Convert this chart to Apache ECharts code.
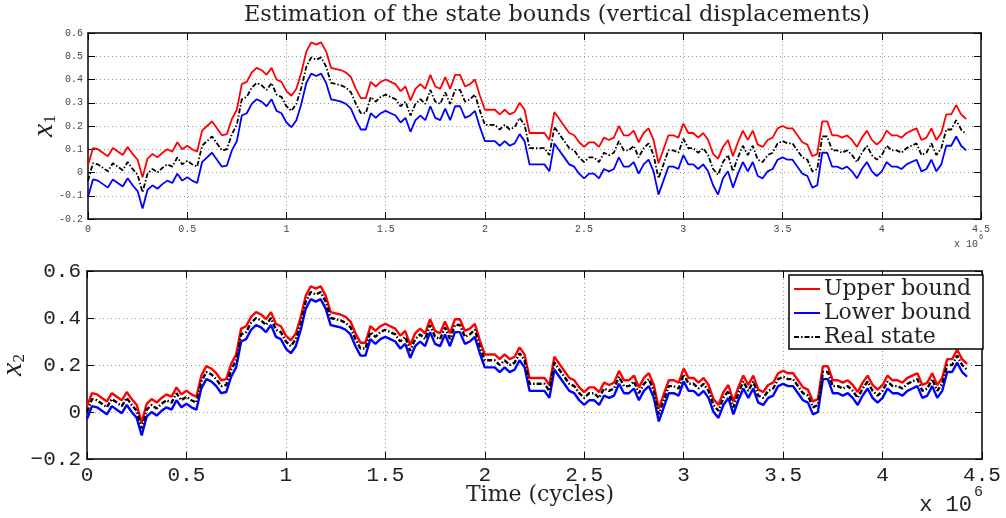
<!DOCTYPE html>
<html>
<head>
<meta charset="utf-8">
<title>Estimation of the state bounds</title>
<script src="https://cdn.jsdelivr.net/npm/echarts@6/dist/echarts.min.js"></script>
<style>
  html, body { margin: 0; padding: 0; background: #fff; }
  #chart { width: 1006px; height: 518px; }
</style>
</head>
<body>
<div id="chart"></div>
<script>
const STEP = 25000

// x1 (top panel)
const upper1 = [
  0.03, 0.105, 0.10, 0.085, 0.07, 0.105, 0.09, 0.075, 0.11, 0.08,
  0.055, -0.02, 0.06, 0.08, 0.065, 0.085, 0.10, 0.09, 0.13, 0.10,
  0.115, 0.10, 0.09, 0.18, 0.20, 0.22, 0.19, 0.16, 0.165, 0.23,
  0.27, 0.38, 0.39, 0.43, 0.45, 0.44, 0.42, 0.45, 0.40, 0.39,
  0.35, 0.33, 0.36, 0.43, 0.52, 0.56, 0.55, 0.56, 0.52, 0.45,
  0.445, 0.44, 0.43, 0.41, 0.36, 0.32, 0.32, 0.39, 0.37, 0.39,
  0.40, 0.39, 0.38, 0.35, 0.37, 0.31, 0.36, 0.38, 0.36, 0.42,
  0.37, 0.36, 0.41, 0.36, 0.42, 0.42, 0.37, 0.38, 0.40, 0.33,
  0.27, 0.27, 0.27, 0.25, 0.27, 0.25, 0.26, 0.30, 0.27, 0.17,
  0.17, 0.17, 0.17, 0.14, 0.26, 0.23, 0.20, 0.17, 0.16, 0.13,
  0.11, 0.13, 0.13, 0.11, 0.15, 0.14, 0.15, 0.20, 0.16, 0.16,
  0.18, 0.13, 0.17, 0.19, 0.14, 0.04, 0.10, 0.16, 0.16, 0.15,
  0.21, 0.17, 0.17, 0.15, 0.17, 0.14, 0.08, 0.06, 0.11, 0.14,
  0.07, 0.13, 0.18, 0.14, 0.18, 0.12, 0.11, 0.14, 0.15, 0.19,
  0.20, 0.19, 0.19, 0.16, 0.13, 0.12, 0.07, 0.08, 0.22, 0.22,
  0.16, 0.16, 0.15, 0.16, 0.14, 0.11, 0.15, 0.18, 0.14, 0.12,
  0.14, 0.18, 0.16, 0.16, 0.15, 0.17, 0.18, 0.19, 0.14, 0.15,
  0.19, 0.14, 0.17, 0.25, 0.25, 0.29, 0.25, 0.23
]
const lower1 = [
  -0.105, -0.03, -0.035, -0.05, -0.065, -0.03, -0.045, -0.06, -0.025, -0.055,
  -0.08, -0.155, -0.075, -0.055, -0.07, -0.05, -0.035, -0.045, -0.005, -0.035,
  -0.02, -0.035, -0.045, 0.045, 0.065, 0.085, 0.055, 0.025, 0.03, 0.095,
  0.135, 0.245, 0.255, 0.295, 0.315, 0.305, 0.285, 0.315, 0.265, 0.255,
  0.215, 0.195, 0.225, 0.295, 0.385, 0.425, 0.415, 0.425, 0.385, 0.315,
  0.31, 0.305, 0.295, 0.275, 0.225, 0.185, 0.185, 0.255, 0.235, 0.255,
  0.265, 0.255, 0.245, 0.215, 0.235, 0.175, 0.225, 0.245, 0.225, 0.285,
  0.235, 0.225, 0.275, 0.225, 0.285, 0.285, 0.235, 0.245, 0.265, 0.195,
  0.135, 0.135, 0.135, 0.115, 0.135, 0.115, 0.125, 0.165, 0.135, 0.035,
  0.035, 0.035, 0.035, 0.005, 0.125, 0.095, 0.065, 0.035, 0.025, -0.005,
  -0.025, -0.005, -0.005, -0.025, 0.015, 0.005, 0.015, 0.065, 0.025, 0.025,
  0.045, -0.005, 0.035, 0.055, 0.005, -0.095, -0.035, 0.025, 0.025, 0.015,
  0.075, 0.035, 0.035, 0.015, 0.035, 0.005, -0.055, -0.095, -0.025, 0.005,
  -0.065, -0.005, 0.045, 0.005, 0.045, -0.015, -0.025, 0.005, 0.015, 0.055,
  0.065, 0.055, 0.055, 0.025, -0.005, -0.015, -0.065, -0.055, 0.085, 0.085,
  0.025, 0.025, 0.015, 0.025, 0.005, -0.025, 0.015, 0.045, 0.005, -0.015,
  0.005, 0.045, 0.025, 0.025, 0.015, 0.035, 0.045, 0.055, 0.005, 0.015,
  0.055, 0.005, 0.035, 0.115, 0.115, 0.155, 0.115, 0.095
]
const real1 = [
  -0.035, 0.04, 0.035, 0.02, 0.005, 0.04, 0.025, 0.01, 0.045, 0.015,
  -0.01, -0.085, -0.005, 0.015, 0.0, 0.02, 0.035, 0.025, 0.065, 0.035,
  0.05, 0.035, 0.025, 0.115, 0.135, 0.155, 0.125, 0.095, 0.1, 0.165,
  0.205, 0.315, 0.325, 0.365, 0.385, 0.375, 0.355, 0.385, 0.335, 0.325,
  0.285, 0.265, 0.295, 0.365, 0.455, 0.495, 0.485, 0.495, 0.455, 0.385,
  0.38, 0.375, 0.365, 0.345, 0.295, 0.255, 0.255, 0.325, 0.305, 0.325,
  0.335, 0.325, 0.315, 0.285, 0.305, 0.245, 0.295, 0.315, 0.295, 0.355,
  0.305, 0.295, 0.345, 0.295, 0.355, 0.355, 0.305, 0.315, 0.335, 0.265,
  0.205, 0.205, 0.205, 0.185, 0.205, 0.185, 0.195, 0.235, 0.205, 0.105,
  0.105, 0.105, 0.105, 0.075, 0.195, 0.165, 0.135, 0.105, 0.095, 0.065,
  0.045, 0.065, 0.065, 0.045, 0.085, 0.075, 0.085, 0.135, 0.095, 0.095,
  0.115, 0.065, 0.105, 0.125, 0.075, -0.025, 0.035, 0.095, 0.095, 0.085,
  0.145, 0.105, 0.105, 0.085, 0.105, 0.075, 0.015, -0.01, 0.045, 0.075,
  0.005, 0.065, 0.115, 0.075, 0.115, 0.055, 0.045, 0.075, 0.085, 0.125,
  0.135, 0.125, 0.125, 0.095, 0.065, 0.055, 0.005, 0.015, 0.155, 0.155,
  0.095, 0.095, 0.085, 0.095, 0.075, 0.045, 0.085, 0.115, 0.075, 0.055,
  0.075, 0.115, 0.095, 0.095, 0.085, 0.105, 0.115, 0.125, 0.075, 0.085,
  0.125, 0.075, 0.105, 0.185, 0.185, 0.225, 0.185, 0.165
]

// x2 (bottom panel)
const upper2 = [
  0.025, 0.08, 0.075, 0.06, 0.045, 0.08, 0.065, 0.05, 0.085, 0.055,
  0.03, -0.045, 0.035, 0.055, 0.04, 0.06, 0.075, 0.065, 0.105, 0.075,
  0.09, 0.075, 0.065, 0.155, 0.195, 0.185, 0.165, 0.135, 0.14, 0.205,
  0.245, 0.355, 0.365, 0.405, 0.425, 0.415, 0.395, 0.425, 0.375, 0.365,
  0.325, 0.305, 0.335, 0.405, 0.495, 0.535, 0.525, 0.535, 0.495, 0.425,
  0.42, 0.415, 0.405, 0.385, 0.335, 0.295, 0.295, 0.365, 0.345, 0.365,
  0.375, 0.365, 0.355, 0.325, 0.345, 0.285, 0.335, 0.355, 0.335, 0.395,
  0.345, 0.335, 0.385, 0.335, 0.395, 0.395, 0.345, 0.355, 0.375, 0.305,
  0.245, 0.245, 0.245, 0.225, 0.245, 0.225, 0.235, 0.275, 0.245, 0.145,
  0.145, 0.145, 0.145, 0.115, 0.235, 0.205, 0.175, 0.145, 0.135, 0.105,
  0.085, 0.105, 0.105, 0.085, 0.125, 0.115, 0.125, 0.175, 0.135, 0.135,
  0.155, 0.105, 0.145, 0.165, 0.115, 0.015, 0.075, 0.135, 0.135, 0.125,
  0.185, 0.145, 0.145, 0.125, 0.145, 0.115, 0.055, 0.03, 0.085, 0.115,
  0.045, 0.105, 0.155, 0.115, 0.155, 0.095, 0.085, 0.115, 0.125, 0.165,
  0.175, 0.165, 0.165, 0.135, 0.105, 0.095, 0.045, 0.055, 0.195, 0.195,
  0.135, 0.135, 0.125, 0.135, 0.115, 0.085, 0.125, 0.155, 0.115, 0.095,
  0.115, 0.155, 0.135, 0.135, 0.125, 0.145, 0.155, 0.165, 0.115, 0.125,
  0.165, 0.115, 0.145, 0.225, 0.225, 0.265, 0.225, 0.205
]
const lower2 = [
  -0.03, 0.025, 0.02, 0.005, -0.01, 0.025, 0.01, -0.005, 0.03, 0.0,
  -0.025, -0.1, -0.02, 0.0, -0.015, 0.005, 0.02, 0.01, 0.05, 0.02,
  0.035, 0.02, 0.01, 0.1, 0.14, 0.13, 0.11, 0.08, 0.085, 0.15,
  0.19, 0.3, 0.31, 0.35, 0.37, 0.36, 0.34, 0.37, 0.32, 0.31,
  0.27, 0.25, 0.28, 0.35, 0.44, 0.48, 0.47, 0.48, 0.44, 0.37,
  0.365, 0.36, 0.35, 0.33, 0.28, 0.24, 0.24, 0.31, 0.29, 0.31,
  0.32, 0.31, 0.30, 0.27, 0.29, 0.23, 0.28, 0.30, 0.28, 0.34,
  0.29, 0.28, 0.33, 0.28, 0.34, 0.34, 0.29, 0.30, 0.32, 0.25,
  0.19, 0.19, 0.19, 0.17, 0.19, 0.17, 0.18, 0.22, 0.19, 0.09,
  0.09, 0.09, 0.09, 0.06, 0.18, 0.15, 0.12, 0.09, 0.08, 0.05,
  0.03, 0.05, 0.05, 0.03, 0.07, 0.06, 0.07, 0.12, 0.08, 0.08,
  0.10, 0.05, 0.09, 0.11, 0.06, -0.04, 0.02, 0.08, 0.08, 0.07,
  0.13, 0.09, 0.09, 0.07, 0.09, 0.06, 0.0, -0.025, 0.03, 0.06,
  -0.01, 0.05, 0.10, 0.06, 0.10, 0.04, 0.03, 0.06, 0.07, 0.11,
  0.12, 0.11, 0.11, 0.08, 0.05, 0.04, -0.01, 0.0, 0.14, 0.14,
  0.08, 0.08, 0.07, 0.08, 0.06, 0.03, 0.07, 0.10, 0.06, 0.04,
  0.06, 0.10, 0.08, 0.08, 0.07, 0.09, 0.10, 0.11, 0.06, 0.07,
  0.11, 0.06, 0.09, 0.17, 0.17, 0.21, 0.17, 0.15
]
const real2 = [
  0.0, 0.055, 0.05, 0.035, 0.02, 0.055, 0.04, 0.025, 0.06, 0.03,
  0.005, -0.07, 0.01, 0.03, 0.015, 0.035, 0.05, 0.04, 0.08, 0.05,
  0.065, 0.05, 0.04, 0.13, 0.17, 0.16, 0.14, 0.11, 0.115, 0.18,
  0.22, 0.33, 0.34, 0.38, 0.40, 0.39, 0.37, 0.40, 0.35, 0.34,
  0.30, 0.28, 0.31, 0.38, 0.47, 0.51, 0.50, 0.51, 0.47, 0.40,
  0.395, 0.39, 0.38, 0.36, 0.31, 0.27, 0.27, 0.34, 0.32, 0.34,
  0.35, 0.34, 0.33, 0.30, 0.32, 0.26, 0.31, 0.33, 0.31, 0.37,
  0.32, 0.31, 0.36, 0.31, 0.37, 0.37, 0.32, 0.33, 0.35, 0.28,
  0.22, 0.22, 0.22, 0.20, 0.22, 0.20, 0.21, 0.25, 0.22, 0.12,
  0.12, 0.12, 0.12, 0.09, 0.21, 0.18, 0.15, 0.12, 0.11, 0.08,
  0.06, 0.08, 0.08, 0.06, 0.10, 0.09, 0.10, 0.15, 0.11, 0.11,
  0.13, 0.08, 0.12, 0.14, 0.09, -0.01, 0.05, 0.11, 0.11, 0.10,
  0.16, 0.12, 0.12, 0.10, 0.12, 0.09, 0.03, 0.005, 0.06, 0.09,
  0.02, 0.08, 0.13, 0.09, 0.13, 0.07, 0.06, 0.09, 0.10, 0.14,
  0.15, 0.14, 0.14, 0.11, 0.08, 0.07, 0.02, 0.03, 0.17, 0.17,
  0.11, 0.11, 0.10, 0.11, 0.09, 0.06, 0.10, 0.13, 0.09, 0.07,
  0.09, 0.13, 0.11, 0.11, 0.10, 0.12, 0.13, 0.14, 0.09, 0.10,
  0.14, 0.09, 0.12, 0.20, 0.20, 0.24, 0.20, 0.18
]

const time = real1.map((_, i) => i * STEP)
const pairs = arr => arr.map((v, i) => [time[i], v])

const serif = '"DejaVu Serif", serif'
const mathFont = '"Liberation Serif", serif'
const mono = '"Liberation Mono", monospace'

// one box = bottom + top x axis, left + right y axis
function xAxes(grid, label) {
  const common = {
    gridIndex: grid, type: 'value', min: 0, max: 4500000, interval: 500000,
    axisLine: { show: true, onZero: false, lineStyle: { color: '#000', width: 1.5 } },
    axisTick: { inside: true, length: 7, lineStyle: { color: '#000' } }
  }
  return [
    Object.assign({}, common, {
      position: 'bottom',
      splitLine: { show: true, showMinLine: false, showMaxLine: false, lineStyle: { color: '#999', type: [1, 3] } },
      axisLabel: Object.assign({ formatter: v => String(v / 1e6) }, label)
    }),
    Object.assign({}, common, {
      position: 'top', axisLabel: { show: false }, splitLine: { show: false }
    })
  ]
}

function yAxes(grid, interval, label, name, gap) {
  const common = {
    gridIndex: grid, type: 'value', min: -0.2, max: 0.6, interval: interval,
    axisLine: { show: true, onZero: false, lineStyle: { color: '#000', width: 1.5 } },
    axisTick: { inside: true, length: 7, lineStyle: { color: '#000' } }
  }
  return [
    Object.assign({}, common, {
      position: 'left',
      name: name, nameLocation: 'middle', nameRotate: 90, nameGap: gap,
      nameMoveOverlap: false,
      nameTextStyle: {
        color: '#222',
        rich: {
          v: { fontFamily: mathFont, fontStyle: 'italic', fontSize: 30, color: '#222' },
          s: { fontFamily: mathFont, fontSize: 17, color: '#222', verticalAlign: 'bottom', padding: [12, 0, 0, 0] }
        }
      },
      splitLine: { show: true, showMinLine: false, showMaxLine: false, lineStyle: { color: '#999', type: [1, 3] } },
      axisLabel: label
    }),
    Object.assign({}, common, {
      position: 'right', axisLabel: { show: false }, splitLine: { show: false }
    })
  ]
}

function lines(xi, yi, up, lo, re, w) {
  return [
    { name: 'Upper bound', data: pairs(up), color: '#ff0000', lineStyle: { width: w, color: '#ff0000' } },
    { name: 'Lower bound', data: pairs(lo), color: '#0000ff', lineStyle: { width: w, color: '#0000ff' } },
    { name: 'Real state', data: pairs(re), color: '#000', lineStyle: { width: w, color: '#000', type: [5, 2, 1.5, 2] } }
  ].map(s => Object.assign(s, {
    type: 'line', xAxisIndex: xi, yAxisIndex: yi, symbol: 'none', showSymbol: false
  }))
}

const chart = echarts.init(document.getElementById('chart'), null, { renderer: 'canvas' })

const smallLabel = { fontFamily: mono, fontSize: 10, color: '#444', margin: 5 }
const bigLabel = { fontFamily: mono, fontSize: 21, color: '#222', margin: 6 }

chart.setOption({
  animation: false,
  backgroundColor: '#fff',
  grid: [
    { left: 88, top: 33, width: 893, height: 186, containLabel: false, outerBoundsMode: 'none' },
    { left: 87, top: 271, width: 895, height: 188, containLabel: false, outerBoundsMode: 'none' }
  ],
  xAxis: [].concat(xAxes(0, smallLabel), xAxes(1, bigLabel)),
  yAxis: [].concat(
    yAxes(0, 0.1, smallLabel, '{v|x}{s|1}', 29),
    yAxes(1, 0.2, Object.assign({ formatter: v => String(v).replace('-', '\u2212') }, bigLabel), '{v|x}{s|2}', 59)
  ),
  legend: {
    orient: 'vertical',
    left: 789, top: 275,
    data: ['Upper bound', 'Lower bound', 'Real state'],
    backgroundColor: '#fff',
    borderColor: '#000', borderWidth: 1.5, borderRadius: 0,
    padding: [3, 12, 1, 4],
    itemGap: 2, itemWidth: 26, itemHeight: 2,
    itemStyle: { opacity: 0 },
    selectedMode: false,
    textStyle: { fontFamily: serif, fontSize: 22, color: '#222', lineHeight: 22, padding: [0, 0, 0, -1] }
  },
  graphic: [
    { type: 'text', style: { x: 557, y: 15, text: 'Estimation of the state bounds (vertical displacements)',
      font: '22.3px ' + serif, fill: '#222', align: 'center', verticalAlign: 'middle' } },
    { type: 'text', style: { x: 540, y: 495, text: 'Time (cycles)', font: '22px ' + serif, fill: '#222', align: 'center', verticalAlign: 'middle' } },
    { type: 'text', style: { x: 978, y: 244, text: 'x 10', font: '10px ' + mono, fill: '#444', align: 'right', verticalAlign: 'middle' } },
    { type: 'text', style: { x: 979, y: 237, text: '6', font: '7px ' + mono, fill: '#444', align: 'left', verticalAlign: 'middle' } },
    { type: 'text', style: { x: 972, y: 505, text: 'x 10', font: '22px ' + mono, fill: '#222', align: 'right', verticalAlign: 'middle' } },
    { type: 'text', style: { x: 974, y: 492, text: '6', font: '15px ' + mono, fill: '#222', align: 'left', verticalAlign: 'middle' } }
  ],
  series: [].concat(
    lines(0, 0, upper1, lower1, real1, 1.8),
    lines(2, 2, upper2, lower2, real2, 2.4)
  )
})
</script>
</body>
</html>
